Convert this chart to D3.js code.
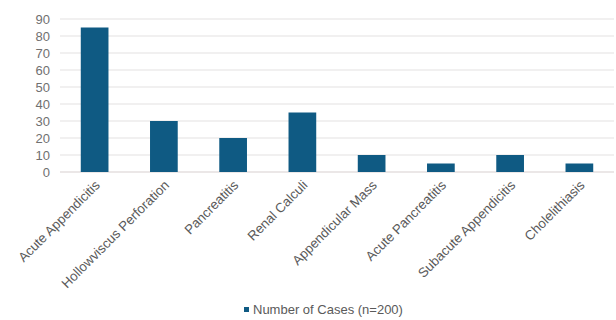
<!DOCTYPE html>
<html><head><meta charset="utf-8">
<script src="https://cdn.jsdelivr.net/npm/d3@7"></script>
<style>body{margin:0;background:#fff}svg{display:block}</style>
</head><body>
<svg id="c" width="616" height="320"></svg>
<script>
const categories = ["Acute Appendicitis","Hollowviscus Perforation","Pancreatitis","Renal Calculi","Appendicular Mass","Acute Pancreatitis","Subacute Appendicitis","Cholelithiasis"];
const values = [85, 30, 20, 35, 10, 5, 10, 5];
const yTicks = [0,10,20,30,40,50,60,70,80,90];
const seriesName = "Number of Cases (n=200)";

const svg = d3.select("#c");
const m = {l:60, r:2, t:19, b:148};
const W = 616, H = 320;
const x = d3.scaleBand().domain(categories).range([m.l, W - m.r]).paddingInner(0.6).paddingOuter(0.3);
const y = d3.scaleLinear().domain([0, 90]).range([H - m.b, m.t]);
const font = "Liberation Sans, Arial, sans-serif";
const color = "#0f5a83";

svg.append("g").selectAll("line").data(yTicks).join("line")
  .attr("x1", m.l).attr("x2", W - 2)
  .attr("y1", d => y(d)).attr("y2", d => y(d))
  .attr("stroke", d => d === 0 ? "#d8d0d0" : "#e4e2e2").attr("stroke-width", 1.2);

const yAxis = svg.append("g").attr("transform", `translate(${m.l},0)`)
  .call(d3.axisLeft(y).tickValues(yTicks).tickSize(0).tickPadding(10));
yAxis.select(".domain").remove();
yAxis.selectAll("text").attr("font-family", font).attr("font-size", 13).attr("fill", "#707070");

svg.append("g").selectAll("rect").data(values).join("rect")
  .attr("x", (d,i) => x(categories[i]))
  .attr("width", x.bandwidth())
  .attr("y", d => y(d))
  .attr("height", d => y(0) - y(d))
  .attr("fill", color);

const xAxis = svg.append("g").attr("transform", `translate(0,${y(0)})`)
  .call(d3.axisBottom(x).tickSize(0).tickPadding(0));
xAxis.select(".domain").remove();
xAxis.selectAll("text")
  .attr("font-family", font).attr("font-size", 13.3).attr("fill", "#5a5a5a")
  .attr("text-anchor", "end").attr("dy", null)
  .attr("transform", "translate(6,14) rotate(-45)");

const lg = svg.append("g").attr("transform", "translate(244,314)");
lg.append("rect").attr("x", 0).attr("y", -7).attr("width", 5).attr("height", 5).attr("fill", color);
lg.append("text").attr("x", 9).attr("y", 0).attr("font-family", font).attr("font-size", 13).attr("fill", "#5a5a5a").text(seriesName);
</script>
</body></html>
